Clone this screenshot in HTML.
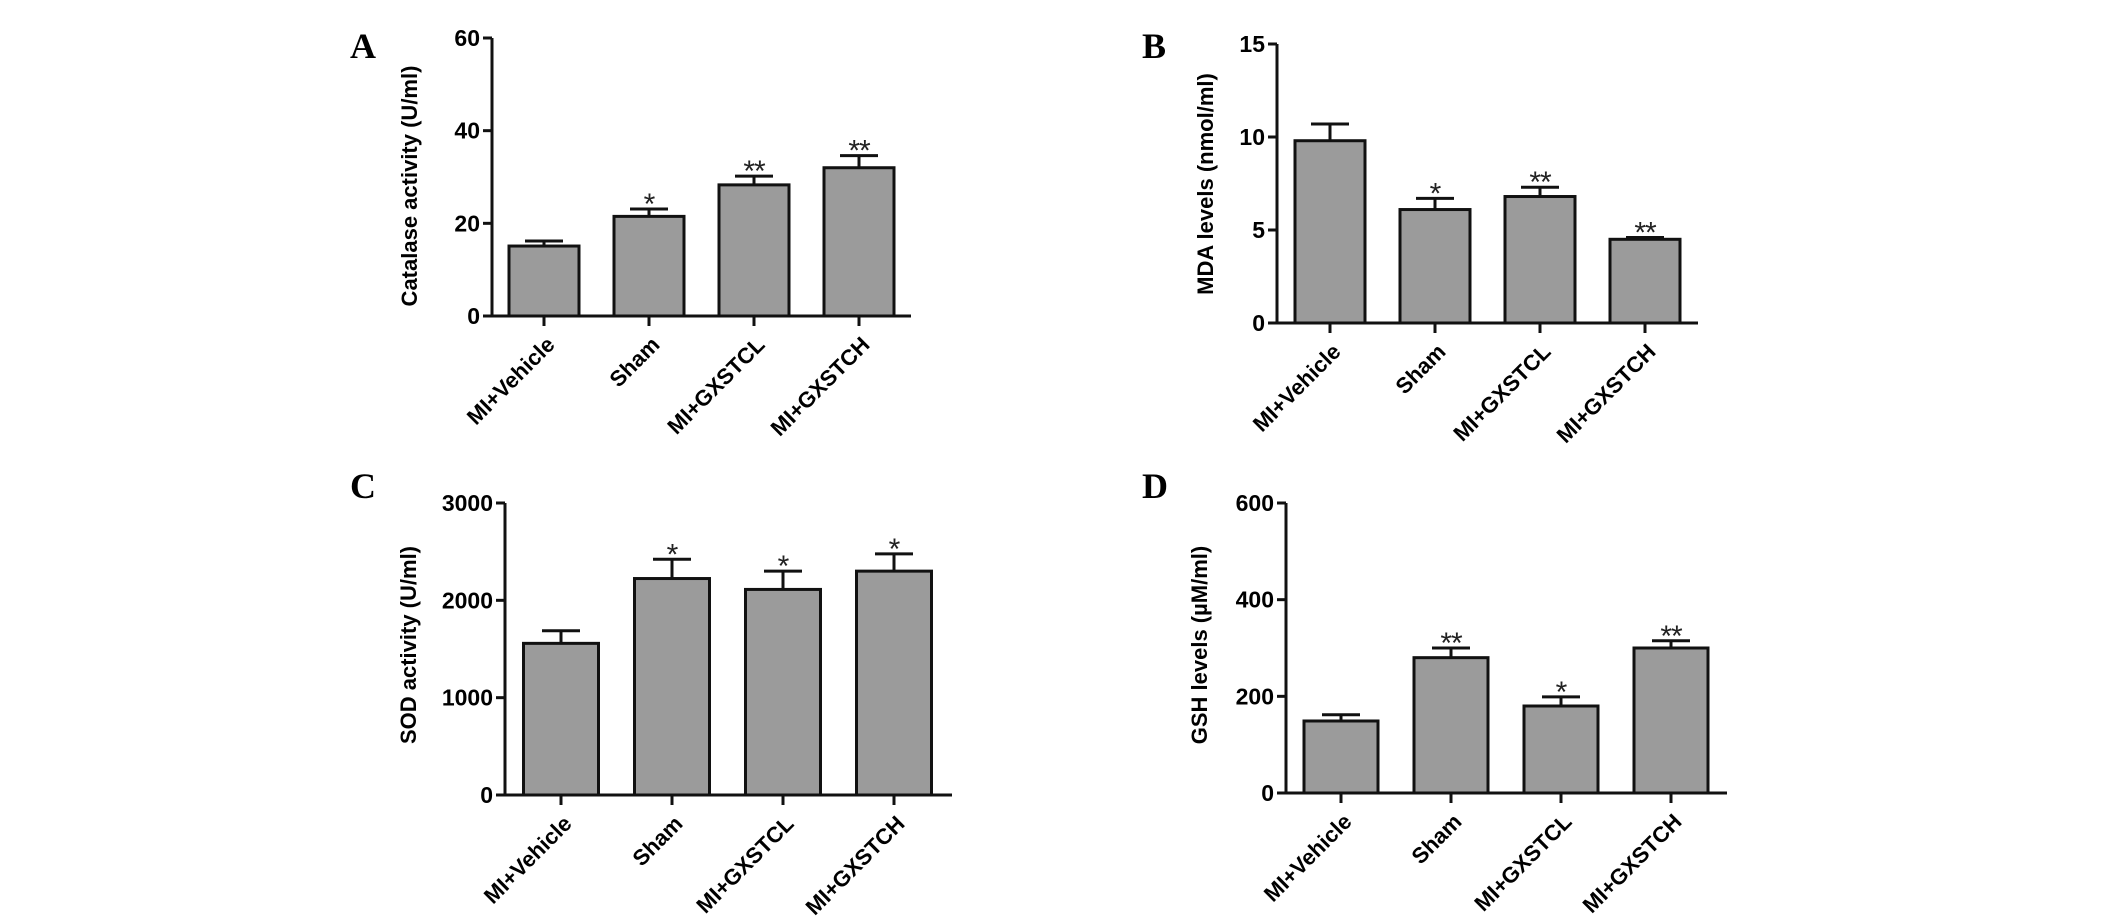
<!DOCTYPE html>
<html><head><meta charset="utf-8"><style>
body{margin:0;background:#fff;}
svg{display:block;font-family:"Liberation Sans",Arial,sans-serif;}
</style></head><body>
<svg id="fig" width="2126" height="916" viewBox="0 0 2126 916" xmlns="http://www.w3.org/2000/svg"></svg>
<script>
const categories = ["MI+Vehicle","Sham","MI+GXSTCL","MI+GXSTCH"];
const catalaseValues = [15.1, 21.5, 28.3, 32.0];
const catalaseErrors = [1.1, 1.6, 1.9, 2.6];
const catalaseStars = ["", "*", "**", "**"];
const catalaseTicks = [0, 20, 40, 60];
const mdaValues = [9.8, 6.1, 6.8, 4.5];
const mdaErrors = [0.9, 0.6, 0.5, 0.1];
const mdaStars = ["", "*", "**", "**"];
const mdaTicks = [0, 5, 10, 15];
const sodValues = [1558, 2224, 2112, 2300];
const sodErrors = [130, 198, 188, 177];
const sodStars = ["", "*", "*", "*"];
const sodTicks = [0, 1000, 2000, 3000];
const gshValues = [149, 280, 180, 300];
const gshErrors = [13, 20, 19, 15];
const gshStars = ["", "**", "*", "**"];
const gshTicks = [0, 200, 400, 600];

const NS = "http://www.w3.org/2000/svg";
const svg = document.getElementById('fig');
function mk(tag, attrs, parent){const e=document.createElementNS(NS,tag);for(const k in attrs)e.setAttribute(k,attrs[k]);(parent||svg).appendChild(e);return e;}

function panel(cfg, values, errors, stars, ticks){
  const g = mk('g',{});
  
  
  const ymax = ticks[ticks.length-1];
  const yScale = v => cfg.y0 - (v / ymax) * (cfg.y0 - cfg.yTop);
  const xScale = i => cfg.x0 + cfg.firstOff + i * cfg.step;
  const L = mk('text',{x:cfg.letterX,y:cfg.letterY,'font-family':'"Liberation Serif",serif','font-weight':'bold','font-size':36},g);
  L.textContent = cfg.letter;
  
  
  values.forEach((v,i)=>{
    const cx = xScale(i), top = yScale(v);
    const r = mk('rect',{x:cx-cfg.bw/2,y:top,width:cfg.bw,height:cfg.y0-top,fill:'#9b9b9b',stroke:'#111','stroke-width':3},g);
    
    
    const et = yScale(v + errors[i]);
    const e1 = mk('line',{x1:cx,x2:cx,y1:top,y2:et,stroke:'#111','stroke-width':3},g);
    
    
    const e2 = mk('line',{x1:cx-19,x2:cx+19,y1:et,y2:et,stroke:'#111','stroke-width':3},g);
    
    
    if(stars[i]){
      const s = mk('text',{x:cx,y:et+5,'text-anchor':'middle','font-size':30,fill:'#222','letter-spacing':'-1'},g);
      s.textContent = stars[i];
      
      
    }
    const t = mk('line',{x1:cx,x2:cx,y1:cfg.y0,y2:cfg.y0+10,stroke:'#111','stroke-width':3},g);
    
    
    const lx = cx + 12, ly = cfg.y0 + 30;
    const c = mk('text',{x:lx,y:ly,'text-anchor':'end','font-weight':'bold','font-size':22,transform:`rotate(-45 ${lx} ${ly})`},g);
    c.textContent = categories[i];
    
    
  });
  const ya = mk('line',{x1:cfg.x0,x2:cfg.x0,y1:cfg.yTop,y2:cfg.y0+1.5,stroke:'#111','stroke-width':3},g);
  
  
  const xa = mk('line',{x1:cfg.x0-9,x2:cfg.xEnd,y1:cfg.y0,y2:cfg.y0,stroke:'#111','stroke-width':3},g);
  
  
  ticks.forEach(tv=>{
    const y = yScale(tv);
    const tl = mk('line',{x1:cfg.x0-9,x2:cfg.x0,y1:y,y2:y,stroke:'#111','stroke-width':3},g);
    
    
    const tx = mk('text',{x:cfg.x0-12,y:y+8,'text-anchor':'end','font-weight':'bold','font-size':23},g);
    tx.textContent = tv;
    
    
  });
  const tt = mk('text',{x:cfg.titleX,y:cfg.titleY,'text-anchor':'middle','font-weight':'bold','font-size':22,transform:`rotate(-90 ${cfg.titleX} ${cfg.titleY})`},g);
  tt.textContent = cfg.title;
  
  
}

panel({id:'a',letter:'A',letterX:350,letterY:58,x0:492,yTop:38,y0:316,firstOff:52,step:105,bw:70,xEnd:911,titleX:417,titleY:186,title:'Catalase activity (U/ml)'}, catalaseValues, catalaseErrors, catalaseStars, catalaseTicks);
panel({id:'b',letter:'B',letterX:1142,letterY:58,x0:1277,yTop:44,y0:323,firstOff:53,step:105,bw:70,xEnd:1698,titleX:1213,titleY:184,title:'MDA levels (nmol/ml)'}, mdaValues, mdaErrors, mdaStars, mdaTicks);
panel({id:'c',letter:'C',letterX:350,letterY:498,x0:505,yTop:503,y0:795,firstOff:56,step:111,bw:75,xEnd:952,titleX:416,titleY:645,title:'SOD activity (U/ml)'}, sodValues, sodErrors, sodStars, sodTicks);
panel({id:'d',letter:'D',letterX:1142,letterY:498,x0:1286,yTop:503,y0:793,firstOff:55,step:110,bw:74,xEnd:1727,titleX:1207,titleY:645,title:'GSH levels (\u00b5M/ml)'}, gshValues, gshErrors, gshStars, gshTicks);
</script>
</body></html>
